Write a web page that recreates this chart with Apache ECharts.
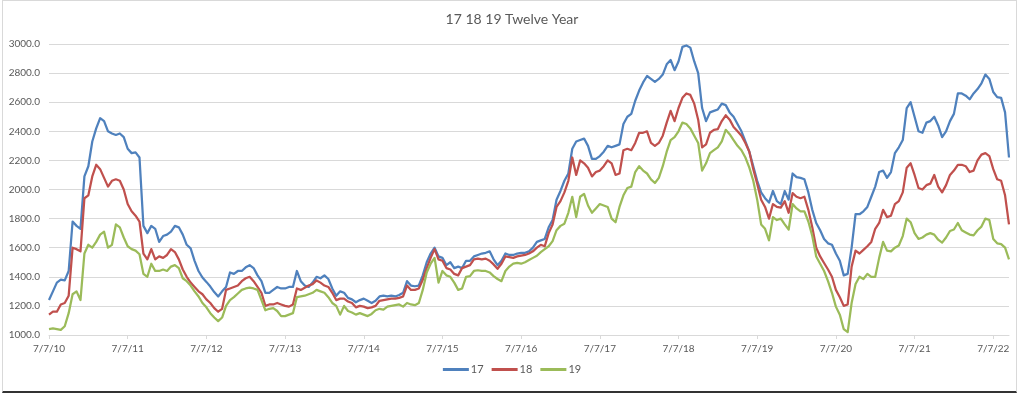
<!DOCTYPE html>
<html>
<head>
<meta charset="utf-8">
<script src="https://cdn.jsdelivr.net/npm/echarts@6/dist/echarts.min.js"></script>
<style>
html,body{margin:0;padding:0;background:#fff;}
#chart{width:1024px;height:394px;}
#frame{position:absolute;left:2px;top:0;width:1013px;height:390px;border:1px solid #d9d9d9;border-bottom:2px solid #333;pointer-events:none;}
</style>
</head>
<body>
<div id="chart"></div>
<div id="frame"></div>
<script>
const tickLabels = ['7/7/10','7/7/11','7/7/12','7/7/13','7/7/14','7/7/15','7/7/16','7/7/17','7/7/18','7/7/19','7/7/20','7/7/21','7/7/22'];
const stepsPerYear = 20;

const s17 = [
1240,1300,1360,1380,1375,1440,1780,1750,1730,2090,
2160,2330,2420,2490,2470,2400,2385,2375,2385,2360,
2280,2250,2255,2220,1750,1700,1750,1730,1640,1680,
1690,1710,1750,1740,1690,1620,1595,1510,1440,1395,
1365,1333,1295,1265,1300,1330,1430,1420,1440,1440,
1465,1480,1460,1410,1370,1290,1290,1310,1330,1320,
1320,1330,1330,1440,1370,1340,1330,1360,1400,1390,
1410,1385,1320,1270,1300,1290,1255,1245,1225,1240,
1250,1235,1220,1235,1265,1270,1265,1270,1265,1275,
1290,1370,1340,1335,1340,1410,1500,1560,1600,1540,
1530,1480,1500,1460,1470,1460,1510,1510,1540,1550,
1560,1565,1575,1520,1480,1510,1560,1550,1550,1560,
1565,1565,1575,1600,1640,1650,1660,1740,1790,1930,
1990,2060,2110,2280,2330,2340,2350,2300,2210,2210,
2230,2260,2300,2290,2300,2310,2450,2500,2520,2610,
2680,2736,2780,2760,2740,2760,2790,2860,2890,2820,
2880,2980,2990,2975,2880,2800,2560,2470,2530,2540,
2550,2590,2580,2530,2500,2450,2400,2330,2260,2160,
2060,1980,1940,1910,1990,1920,1900,1990,1930,2110,
2085,2080,2070,1980,1860,1770,1720,1660,1630,1620,
1560,1510,1410,1420,1600,1830,1830,1850,1880,1950,
2020,2120,2130,2080,2120,2250,2290,2340,2560,2600,
2500,2400,2390,2460,2470,2500,2440,2360,2400,2470,
2520,2660,2660,2645,2620,2660,2690,2730,2790,2760,
2670,2635,2630,2530,2220
];

const s18 = [
1140,1160,1160,1210,1220,1270,1600,1590,1575,1940,
1960,2090,2170,2140,2080,2020,2060,2070,2060,2000,
1900,1850,1820,1780,1560,1520,1590,1520,1540,1530,
1550,1590,1570,1520,1450,1400,1360,1330,1300,1280,
1245,1220,1185,1160,1180,1310,1320,1330,1340,1370,
1390,1400,1370,1330,1290,1200,1210,1210,1220,1210,
1200,1195,1210,1320,1310,1325,1340,1350,1375,1360,
1340,1330,1290,1240,1250,1250,1230,1220,1190,1200,
1195,1185,1190,1200,1235,1240,1245,1250,1250,1255,
1265,1340,1310,1310,1320,1380,1460,1530,1590,1520,
1510,1460,1450,1420,1410,1460,1470,1480,1520,1525,
1520,1525,1510,1485,1455,1490,1540,1535,1530,1540,
1545,1550,1560,1575,1600,1620,1610,1700,1760,1880,
1920,1980,2060,2220,2100,2200,2180,2150,2090,2120,
2130,2160,2200,2180,2100,2110,2270,2280,2270,2320,
2390,2390,2400,2320,2300,2320,2370,2460,2540,2470,
2560,2630,2660,2650,2590,2480,2290,2310,2390,2410,
2415,2470,2510,2480,2430,2400,2370,2320,2260,2140,
2040,1930,1880,1800,1900,1880,1875,1920,1840,1975,
1950,1940,1950,1860,1740,1600,1540,1495,1450,1400,
1310,1260,1200,1210,1470,1580,1560,1585,1610,1640,
1730,1770,1860,1810,1820,1900,1920,1980,2150,2180,
2100,2010,2000,2030,2040,2100,2020,1980,2030,2100,
2130,2170,2170,2160,2120,2130,2200,2240,2250,2230,
2140,2070,2060,1960,1760
];

const s19 = [
1040,1045,1040,1035,1060,1150,1280,1300,1240,1560,
1620,1600,1640,1690,1710,1600,1620,1760,1740,1670,
1610,1590,1580,1555,1420,1400,1490,1440,1440,1450,
1440,1470,1480,1460,1390,1370,1340,1300,1265,1220,
1190,1150,1120,1095,1120,1200,1240,1260,1285,1310,
1320,1325,1320,1310,1240,1170,1180,1185,1165,1130,
1130,1140,1150,1260,1265,1270,1280,1290,1310,1300,
1290,1260,1220,1200,1140,1200,1165,1155,1140,1150,
1140,1130,1145,1170,1180,1175,1195,1200,1205,1210,
1195,1220,1210,1205,1220,1310,1430,1490,1530,1360,
1440,1410,1400,1360,1310,1320,1400,1405,1440,1445,
1440,1440,1430,1405,1385,1370,1440,1470,1490,1495,
1490,1500,1515,1530,1545,1570,1590,1610,1645,1720,
1750,1765,1840,1950,1810,1950,1970,1890,1840,1870,
1900,1890,1880,1800,1775,1880,1960,2010,2020,2120,
2160,2130,2110,2070,2045,2080,2160,2260,2340,2360,
2400,2460,2450,2420,2370,2320,2130,2180,2250,2270,
2290,2330,2410,2380,2340,2300,2270,2220,2150,2060,
1930,1760,1730,1650,1810,1790,1800,1760,1725,1900,
1870,1850,1850,1780,1680,1540,1490,1440,1370,1290,
1195,1140,1040,1020,1220,1350,1400,1385,1420,1400,
1400,1530,1640,1580,1575,1600,1615,1680,1800,1775,
1700,1660,1670,1690,1700,1690,1655,1635,1670,1715,
1725,1770,1720,1705,1690,1685,1720,1745,1800,1790,
1660,1630,1625,1600,1520
];

const seriesNames = ['17','18','19'];
const seriesColors = ['#4F81BD','#C0504D','#9BBB59'];

// category positions: stepsPerYear samples per year, labelled at each 7/7 anniversary
const categories = s17.map((_, i) => {
  const y = Math.floor(i / stepsPerYear);
  const k = i % stepsPerYear;
  return k === 0 && tickLabels[y] ? tickLabels[y] : tickLabels[y] + '+' + k;
});

const chart = echarts.init(document.getElementById('chart'), null, {renderer: 'canvas'});
const font = 'Lato, "Open Sans", sans-serif';
chart.setOption({
  animation: false,
  backgroundColor: '#ffffff',
  title: {
    text: '17 18 19 Twelve Year',
    left: 'center',
    top: 7,
    textStyle: {fontSize: 14, fontWeight: 'normal', color: '#595959', fontFamily: font}
  },
  grid: {left: 49, right: 15, top: 44, bottom: 59, containLabel: false},
  legend: {
    bottom: 14,
    left: 'center',
    icon: 'rect',
    itemWidth: 26,
    itemHeight: 3,
    itemGap: 8,
    textStyle: {fontSize: 11, color: '#595959', fontFamily: font, padding: [0,0,0,-3]},
    data: seriesNames
  },
  xAxis: {
    type: 'category',
    boundaryGap: false,
    data: categories,
    axisLine: {lineStyle: {color: '#d9d9d9', width: 1}},
    axisTick: {show: true, length: 4, lineStyle: {color: '#d9d9d9'}, interval: (i) => i % stepsPerYear === 0},
    axisLabel: {
      interval: (i) => i % stepsPerYear === 0,
      formatter: (v) => v.indexOf('+') >= 0 ? '' : v,
      color: '#595959', fontSize: 10, fontFamily: font, margin: 9
    },
    splitLine: {show: false}
  },
  yAxis: {
    type: 'value',
    min: 1000, max: 3000, interval: 200,
    axisLine: {show: false},
    axisTick: {show: false},
    axisLabel: {formatter: (v) => v.toFixed(1), color: '#595959', fontSize: 10, fontFamily: font, margin: 9},
    splitLine: {lineStyle: {color: '#d9d9d9', width: 1}}
  },
  series: [s17, s18, s19].map((d, k) => ({
    name: seriesNames[k],
    type: 'line',
    data: d,
    symbol: 'none',
    showSymbol: false,
    smooth: false,
    color: seriesColors[k],
    lineStyle: {width: 2.25, color: seriesColors[k], join: 'round'}
  }))
});
</script>
</body>
</html>
